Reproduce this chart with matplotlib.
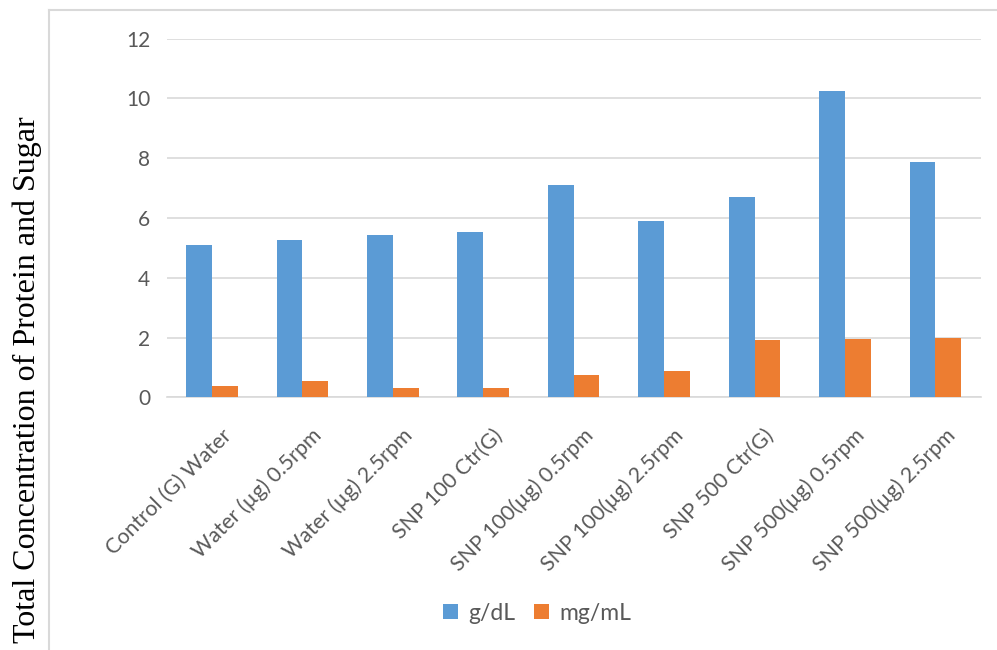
import matplotlib
matplotlib.use("Agg")
import matplotlib.pyplot as plt
from matplotlib.lines import Line2D
from matplotlib.transforms import ScaledTranslation
import numpy as np

categories = [
    "Control (G) Water",
    "Water (µg) 0.5rpm",
    "Water (µg) 2.5rpm",
    "SNP 100 Ctr(G)",
    "SNP 100(µg) 0.5rpm",
    "SNP 100(µg) 2.5rpm",
    "SNP 500 Ctr(G)",
    "SNP 500(µg) 0.5rpm",
    "SNP 500(µg) 2.5rpm",
]
g_dl = [5.08, 5.26, 5.43, 5.52, 7.12, 5.89, 6.70, 10.25, 7.86]
mg_ml = [0.39, 0.54, 0.31, 0.31, 0.76, 0.88, 1.92, 1.95, 1.99]
yticks = [0, 2, 4, 6, 8, 10, 12]
series_names = ["g/dL", "mg/mL"]

BLUE = "#5B9BD5"
ORANGE = "#ED7D31"
GRID = "#D9D9D9"
TEXT = "#595959"
FONT = "Lato"

W, H, DPI = 997, 650, 100
fig = plt.figure(figsize=(W / DPI, H / DPI), dpi=DPI)
fig.patch.set_facecolor("white")

ax = fig.add_axes([166.7 / W, 1 - 397.3 / H, (980.7 - 166.7) / W, (397.3 - 38.7) / H])

x = np.arange(len(categories))
bw = 0.285
ax.bar(x - bw / 2, g_dl, width=bw, color=BLUE, label=series_names[0], zorder=3)
ax.bar(x + bw / 2, mg_ml, width=bw, color=ORANGE, label=series_names[1], zorder=3)

ax.set_xlim(-0.5, len(categories) - 0.5)
ax.set_ylim(0, 12)
ax.set_yticks(yticks)
ax.set_yticklabels([str(v) for v in yticks], fontsize=15, color=TEXT, family=FONT)
ax.yaxis.grid(True, color=GRID, linewidth=1.2, zorder=0)
ax.set_axisbelow(True)
for side in ["top", "right", "left"]:
    ax.spines[side].set_visible(False)
ax.spines["bottom"].set_color(GRID)
ax.spines["bottom"].set_linewidth(1.2)
ax.tick_params(axis="both", length=0)
ax.tick_params(axis="y", pad=12)

ax.set_xticks(x)
ax.set_xticklabels(categories, rotation=45, ha="right", va="top",
                   rotation_mode="anchor", fontsize=15.3, color=TEXT, family=FONT)
shift = ScaledTranslation(9 / DPI, -23 / DPI, fig.dpi_scale_trans)
for lbl in ax.get_xticklabels():
    lbl.set_transform(lbl.get_transform() + shift)

fig.text(27 / W, 1 - 380 / H, "Total Concentration of Protein and Sugar",
         rotation=90, ha="center", va="center", fontsize=23,
         family="Liberation Serif", color="black")

leg = fig.legend(loc="center", bbox_to_anchor=(537 / W, 1 - 613 / H), ncol=2,
                 frameon=False, handlelength=0.65, handleheight=0.65,
                 handletextpad=0.45, columnspacing=0.8, prop={"family": FONT, "size": 16.5})
for t in leg.get_texts():
    t.set_color(TEXT)

# chart-area border
fig.add_artist(Line2D([49 / W, 1.0], [1 - 10 / H, 1 - 10 / H], color=GRID, linewidth=1.5,
                      transform=fig.transFigure))
fig.add_artist(Line2D([49 / W, 49 / W], [1 - 10 / H, 0.0], color=GRID, linewidth=1.5,
                      transform=fig.transFigure))

fig.savefig("out.png", dpi=DPI, facecolor="white")
